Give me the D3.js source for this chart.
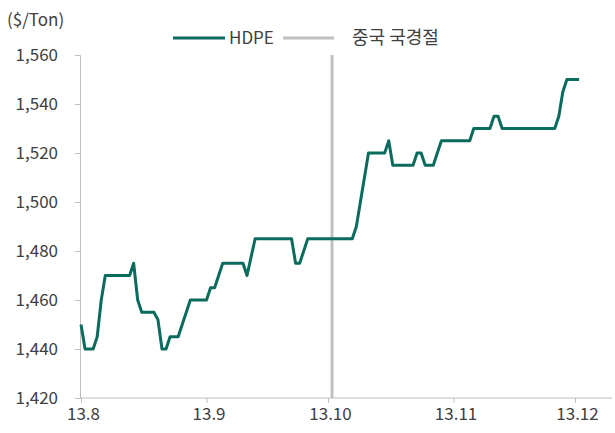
<!DOCTYPE html>
<html><head><meta charset="utf-8">
<script src="https://cdn.jsdelivr.net/npm/d3@7"></script>
<style>
body{margin:0;background:#fff;}
text{font-family:"Noto Sans CJK KR","Noto Sans",sans-serif;fill:#404040;}
</style></head>
<body><svg id="c" width="615" height="433"></svg>
<script>
const dates = ["2013-08-01","2013-08-02","2013-08-04","2013-08-05","2013-08-06","2013-08-07","2013-08-13","2013-08-14","2013-08-15","2013-08-16","2013-08-19","2013-08-20","2013-08-21","2013-08-22","2013-08-23","2013-08-25","2013-08-28","2013-09-01","2013-09-02","2013-09-03","2013-09-05","2013-09-10","2013-09-11","2013-09-13","2013-09-22","2013-09-23","2013-09-24","2013-09-26","2013-10-07","2013-10-08","2013-10-11","2013-10-15","2013-10-16","2013-10-17","2013-10-22","2013-10-23","2013-10-24","2013-10-25","2013-10-27","2013-10-29","2013-11-05","2013-11-06","2013-11-10","2013-11-11","2013-11-12","2013-11-13","2013-11-26","2013-11-27","2013-11-28","2013-11-29","2013-12-02"];
const hdpe = [1450,1440,1440,1445,1460,1470,1470,1475,1460,1455,1455,1452,1440,1440,1445,1445,1460,1460,1465,1465,1475,1475,1470,1485,1485,1475,1475,1485,1485,1490,1520,1520,1525,1515,1515,1520,1520,1515,1515,1525,1525,1530,1530,1535,1535,1530,1530,1535,1545,1550,1550];
const holidayDate = "2013-10-02";
const xTicks = ["2013-08-01","2013-09-01","2013-10-01","2013-11-01","2013-12-01"];
const xTickLabels = ["13.8","13.9","13.10","13.11","13.12"];
const yTicks = [1420,1440,1460,1480,1500,1520,1540,1560];
const seriesNames = ["HDPE","중국 국경절"];
const unitLabel = "($/Ton)";

const parse = d3.timeParse("%Y-%m-%d");
const svg = d3.select("#c");
const x = d3.scaleTime().domain([parse("2013-08-01"), parse("2013-12-01")]).range([81, 575]);
const y = d3.scaleLinear().domain([1420,1560]).range([398,55]);
const axisColor = "#bfbfbf";
const fs = "17px";

// y axis
const ya = svg.append("g").attr("transform","translate(80,0)")
  .call(d3.axisLeft(y).tickValues(yTicks).tickSize(5).tickPadding(17).tickFormat(d3.format(",")));
ya.select(".domain").attr("stroke",axisColor);
ya.selectAll(".tick line").attr("stroke",axisColor);
ya.selectAll("text").style("font-size",fs).attr("fill","#404040");

// x axis
const xEnd = 612;
const xa = svg.append("g").attr("transform","translate(0,398)")
  .call(d3.axisBottom(x).tickValues(xTicks.map(parse)).tickSize(5).tickPadding(5)
    .tickFormat((d,i)=>xTickLabels[i]));
xa.select(".domain").remove();
xa.append("line").attr("x1",80).attr("x2",xEnd).attr("stroke",axisColor);
xa.selectAll(".tick line").attr("stroke",axisColor);
xa.selectAll("text").style("font-size",fs).attr("fill","#404040").attr("dx",2);

// holiday line
svg.append("line").attr("x1",x(parse(holidayDate))).attr("x2",x(parse(holidayDate)))
  .attr("y1",y(1560)).attr("y2",y(1420)).attr("stroke","#c0c0c0").attr("stroke-width",3);

// series
const data = dates.map((d,i)=>({d:parse(d),v:hdpe[i]}));
svg.append("path").datum(data)
  .attr("d", d3.line().x(d=>x(d.d)).y(d=>y(d.v)))
  .attr("fill","none").attr("stroke","#0b6b5c").attr("stroke-width",3).attr("stroke-linejoin","round");

// unit label
svg.append("text").attr("x",7).attr("y",26).style("font-size",fs).text(unitLabel);

// legend
const lg = svg.append("g");
lg.append("line").attr("x1",173).attr("x2",225).attr("y1",38).attr("y2",38).attr("stroke","#0b6b5c").attr("stroke-width",3);
lg.append("text").attr("x",229).attr("y",44).style("font-size",fs).text(seriesNames[0]);
lg.append("line").attr("x1",283).attr("x2",334).attr("y1",38).attr("y2",38).attr("stroke","#c0c0c0").attr("stroke-width",3);
lg.append("text").attr("x",352).attr("y",44).style("font-size","18px").text(seriesNames[1]);
</script></body></html>
